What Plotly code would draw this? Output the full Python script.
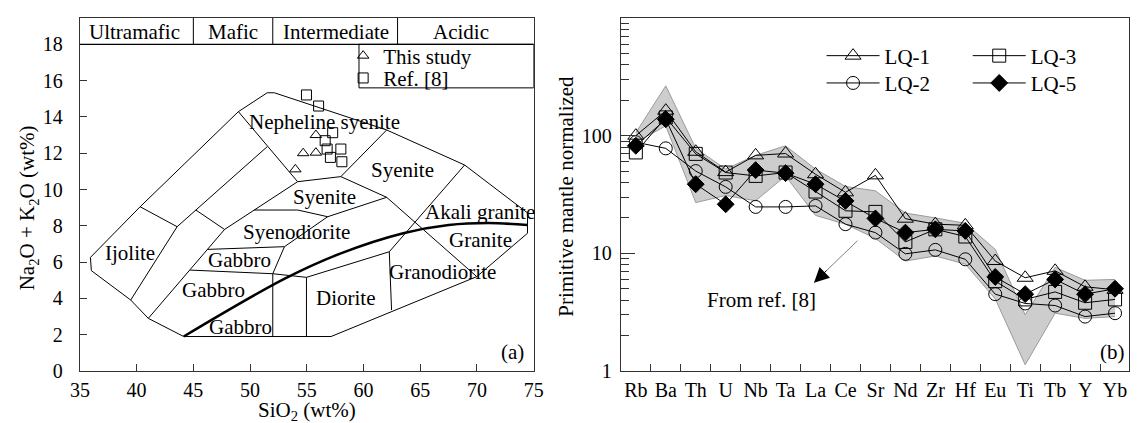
import plotly.graph_objects as go

# ---------------- Panel (a): TAS diagram data ----------------
this_study_sio2 = [53.99, 54.68, 55.80, 55.80]
this_study_alk = [11.11, 12.00, 12.03, 13.00]
ref8_sio2 = [54.97, 56.04, 57.28, 56.62, 56.79, 58.00, 57.08, 58.09]
ref8_alk = [15.21, 14.60, 13.13, 12.69, 12.23, 12.23, 11.77, 11.53]

# field boundaries (SiO2, Na2O+K2O)
outer_sio2 = [35.93, 36.01, 39.48, 41.03, 44.15, 57.14, 69.98, 74.45, 74.45, 68.91, 62.04, 52.14, 51.51, 48.97, 40.31, 35.93]
outer_alk = [6.26, 5.53, 3.91, 2.90, 1.90, 1.90, 5.20, 7.59, 8.71, 11.35, 13.28, 15.33, 15.33, 14.29, 9.05, 6.26]
nes_low_sio2 = [48.97, 54.19, 58.00, 62.04]
nes_low_alk = [14.29, 10.43, 10.71, 13.28]
sye_mid_sio2 = [58.00, 62.04, 69.98]
sye_mid_alk = [10.71, 9.57, 5.20]
ijo_top_sio2 = [40.31, 43.57]
ijo_top_alk = [9.05, 7.95]
inner1_sio2 = [51.51, 43.57, 39.48]
inner1_alk = [12.36, 7.95, 3.91]
short2_sio2 = [45.22, 47.75]
short2_alk = [8.87, 7.80]
inner2_sio2 = [54.19, 47.75, 41.03]
inner2_alk = [10.43, 7.80, 2.90]
syd_top_sio2 = [50.35, 54.20, 56.84, 62.04]
syd_top_alk = [8.87, 8.87, 8.50, 9.57]
syd_low_sio2 = [46.25, 53.03, 56.84]
syd_low_alk = [6.70, 6.85, 8.50]
syd_side_sio2 = [53.03, 52.00]
syd_side_alk = [6.85, 5.36]
gab_top_sio2 = [44.72, 52.00, 54.97, 62.27]
gab_top_alk = [5.56, 5.36, 5.16, 6.57]
v52_sio2 = [52.00, 52.00]
v52_alk = [5.36, 1.90]
v55_sio2 = [54.97, 54.97]
v55_alk = [5.16, 1.90]
dio_right_sio2 = [62.27, 62.47]
dio_right_alk = [6.57, 3.36]
gra_left_sio2 = [62.27, 68.91]
gra_left_alk = [6.57, 11.35]
alk_line_sio2 = [44.15, 53.10, 58.00, 63.50, 67.50, 71.00, 74.45]
alk_line_alk = [1.90, 5.10, 6.48, 7.59, 8.04, 8.15, 8.04]

field_names = ["Nepheline syenite", "Syenite", "Syenite", "Syenodiorite", "Akali granite",
               "Granite", "Granodiorite", "Diorite", "Gabbro", "Gabbro", "Gabbro", "Ijolite"]
field_x = [56.56, 63.40, 56.56, 54.05, 70.24, 70.27, 66.95, 58.44, 49.10, 46.80, 49.20, 39.39]
field_y = [13.73, 11.07, 9.60, 7.66, 8.78, 7.22, 5.47, 4.00, 6.12, 4.46, 2.44, 6.48]

header_names = ["Ultramafic", "Mafic", "Intermediate", "Acidic"]
header_x = [39.85, 48.5, 57.6, 68.6]
header_bounds = [45, 52, 63]

# ---------------- Panel (b): spider diagram data ----------------
elements = ["Rb", "Ba", "Th", "U", "Nb", "Ta", "La", "Ce", "Sr", "Nd", "Zr", "Hf", "Eu", "Ti", "Tb", "Y", "Yb"]
lq1 = [100, 163, 73, 49, 68, 70.5, 47, 33, 46, 19.7, 17.7, 17.3, 8.6, 6.2, 7.1, 5.2, 4.9]
lq2 = [88, 78, 50, 36.7, 24.8, 24.8, 25.3, 17.7, 15.0, 9.9, 10.7, 8.9, 4.5, 3.75, 3.6, 2.9, 3.1]
lq3 = [72, 143, 70, 48.6, 45.5, 48.6, 33.5, 23.0, 22.5, 12.5, 16.0, 13.9, 5.8, 4.06, 4.7, 3.8, 4.06]
lq5 = [82, 138, 38.7, 26.1, 51, 48, 38.7, 27.9, 19.8, 15.0, 16.0, 15.5, 6.3, 4.5, 6.0, 4.5, 5.0]
band_upper = [106, 265, 78, 52, 68, 82, 52, 37, 34, 22, 20, 18, 10.8, 3.0, 7.6, 5.9, 6.0]
band_lower = [88, 121, 27, 31, 28, 45.5, 21, 17.7, 13.4, 8.6, 9.5, 8.1, 4.1, 1.13, 3.1, 2.8, 2.9]

FONT = "Liberation Serif"
FS = 21      # label text
TFS = 20     # tick labels
AX = "#333333"

# the page body adds an 8 px margin; the figure is sized to fit inside the window
W, H = 1132, 415

fig = go.Figure()

# ---- panel (a) traces ----
tas_lines = [
    (outer_sio2, outer_alk), (nes_low_sio2, nes_low_alk), (sye_mid_sio2, sye_mid_alk),
    (ijo_top_sio2, ijo_top_alk), (inner1_sio2, inner1_alk), (short2_sio2, short2_alk),
    (inner2_sio2, inner2_alk), (syd_top_sio2, syd_top_alk), (syd_low_sio2, syd_low_alk),
    (syd_side_sio2, syd_side_alk), (gab_top_sio2, gab_top_alk), (v52_sio2, v52_alk),
    (v55_sio2, v55_alk), (dio_right_sio2, dio_right_alk), (gra_left_sio2, gra_left_alk),
]
for xs, ys in tas_lines:
    fig.add_trace(go.Scatter(x=xs, y=ys, mode="lines", line=dict(color="black", width=1),
                             showlegend=False, hoverinfo="skip", xaxis="x", yaxis="y"))
fig.add_trace(go.Scatter(x=alk_line_sio2, y=alk_line_alk, mode="lines",
                         line=dict(color="black", width=2.5, shape="spline"),
                         showlegend=False, hoverinfo="skip", xaxis="x", yaxis="y"))

fig.add_trace(go.Scatter(x=this_study_sio2, y=this_study_alk, mode="markers", name="This study",
                         marker=dict(symbol="triangle-up-open", size=10, color="black", line=dict(width=1)),
                         xaxis="x", yaxis="y", legend="legend"))
fig.add_trace(go.Scatter(x=ref8_sio2, y=ref8_alk, mode="markers", name="Ref. [8]",
                         marker=dict(symbol="square-open", size=10, color="black", line=dict(width=1)),
                         xaxis="x", yaxis="y", legend="legend4"))

# ---- panel (b) traces ----
fig.add_trace(go.Scatter(x=elements, y=band_lower, mode="lines", line=dict(color="#9a9a9a", width=1),
                         showlegend=False, hoverinfo="skip", xaxis="x2", yaxis="y2"))
fig.add_trace(go.Scatter(x=elements, y=band_upper, mode="lines", line=dict(color="#9a9a9a", width=1),
                         fill="tonexty", fillcolor="#cdcdcd",
                         showlegend=False, hoverinfo="skip", xaxis="x2", yaxis="y2"))

series = [
    ("LQ-1", lq1, "triangle-up-open", 14, "legend2"),
    ("LQ-2", lq2, "circle-open", 13, "legend3"),
    ("LQ-3", lq3, "square-open", 13, "legend5"),
    ("LQ-5", lq5, "diamond", 13, "legend6"),
]
for name, vals, sym, size, leg in series:
    fig.add_trace(go.Scatter(x=elements, y=vals, mode="lines+markers", name=name,
                             line=dict(color="black", width=1),
                             marker=dict(symbol=sym, size=size, color="black", line=dict(width=1, color="black")),
                             xaxis="x2", yaxis="y2", legend=leg))

# ---- shapes for panel (a) header band and legend box ----
shapes = [dict(type="line", xref="x", yref="y", x0=35, x1=75, y0=18, y1=18,
               line=dict(color="black", width=1.2))]
for b in header_bounds:
    shapes.append(dict(type="line", xref="x", yref="y domain", x0=b, x1=b, y0=18 / 19.45, y1=1,
                       line=dict(color="black", width=1)))
shapes.append(dict(type="rect", xref="x", yref="y", x0=59.6, x1=75, y0=15.6, y1=18,
                   line=dict(color="black", width=1)))


def px(img_x):
    return (img_x - 8) / W


def py(img_y):
    return (371 - img_y) / 353


txt = dict(family=FONT, size=FS, color="black")
C = dict(xanchor="center", yanchor="middle", showarrow=False)
annotations = []
for t, x, y in zip(field_names, field_x, field_y):
    annotations.append(dict(text=t, x=x, y=y, xref="x", yref="y", font=txt, **C))
for t, x in zip(header_names, header_x):
    annotations.append(dict(text=t, x=x, y=18.7, xref="x", yref="y", font=txt, **C))
annotations.append(dict(text="(a)", x=73.15, y=1.06, xref="x", yref="y", font=txt, **C))
annotations.append(dict(text="SiO<sub>2</sub> (wt%)", x=px(302), y=py(411), xref="paper", yref="paper",
                        font=txt, **C))
annotations.append(dict(text="Na<sub>2</sub>O + K<sub>2</sub>O (wt%)", x=px(18), y=py(207.5),
                        xref="paper", yref="paper", textangle=-90, font=txt, **C))
annotations.append(dict(text="Primitive mantle normalized", x=px(565), y=py(196.5), xref="paper", yref="paper",
                        textangle=-90, font=txt, **C))
annotations.append(dict(text="(b)", x=px(1121.7), y=py(351.7), xref="paper", yref="paper", font=txt, **C))
annotations.append(dict(text="From ref. [8]", x=px(765), y=py(300), xref="paper", yref="paper", font=txt, **C))
annotations.append(dict(text="", x=px(818.3), y=py(282.7), xref="paper", yref="paper", showarrow=True,
                        ax=45, ay=-43.4, arrowhead=0, arrowwidth=1, arrowcolor="#808080"))
annotations.append(dict(text="", x=px(818.3), y=py(282.7), xref="paper", yref="paper", showarrow=True,
                        ax=14, ay=-13.5, arrowhead=2, arrowsize=3, arrowwidth=1, arrowcolor="black"))

axis_common = dict(showline=True, mirror=True, linecolor=AX, linewidth=1.3, showgrid=False, zeroline=False,
                   ticks="inside", tickcolor=AX, tickwidth=1.2,
                   tickfont=dict(family=FONT, size=TFS, color="black"))


def leg(img_x, img_y):
    return dict(x=px(img_x), y=py(img_y), xanchor="left", yanchor="middle", bgcolor="rgba(0,0,0,0)",
                font=dict(family=FONT, size=FS, color="black"), traceorder="normal")


legend_a1 = leg(339, 56)
legend_a2 = leg(339, 78.3)
legend_b = [leg(826, 56), leg(826, 83.3), leg(974.8, 56), leg(974.8, 83.3)]
for lg in legend_b:
    lg["itemwidth"] = 53

fig.update_layout(
    width=W, height=H,
    margin=dict(l=0, r=0, t=10, b=52),
    paper_bgcolor="white", plot_bgcolor="white",
    font=dict(family=FONT, size=FS, color="black"),
    xaxis=dict(domain=[63 / W, 525 / W], range=[35, 75], tickvals=list(range(35, 76, 5)),
               ticklen=7, anchor="y", ticklabelstandoff=1, **axis_common),
    yaxis=dict(domain=[0, 1], range=[0, 19.45], tickvals=list(range(0, 19, 2)),
               ticklen=7, anchor="x", ticklabelstandoff=12, **axis_common),
    xaxis2=dict(domain=[613.7 / W, 1130.5 / W], type="category", categoryorder="array", categoryarray=elements,
                range=[-0.5, 16.45], tickson="boundaries", ticklen=7, anchor="y2", ticklabelstandoff=1,
                tickangle=0, **axis_common),
    yaxis2=dict(domain=[0, 1], type="log", range=[0, 3], tickvals=[1, 10, 100, 1000],
                ticktext=["1", "10", "100", "1000"], ticklen=14, anchor="x2", ticklabelstandoff=4,
                minor=dict(ticks="inside", ticklen=8, tickcolor=AX, tickwidth=1,
                           tickvals=[m * 10 ** e for e in range(3) for m in range(2, 10)], showgrid=False),
                **axis_common),
    legend=legend_a1,
    legend4=legend_a2,
    legend2=legend_b[0],
    legend3=legend_b[1],
    legend5=legend_b[2],
    legend6=legend_b[3],
    shapes=shapes,
    annotations=annotations,
)

fig.write_html("out.html")
